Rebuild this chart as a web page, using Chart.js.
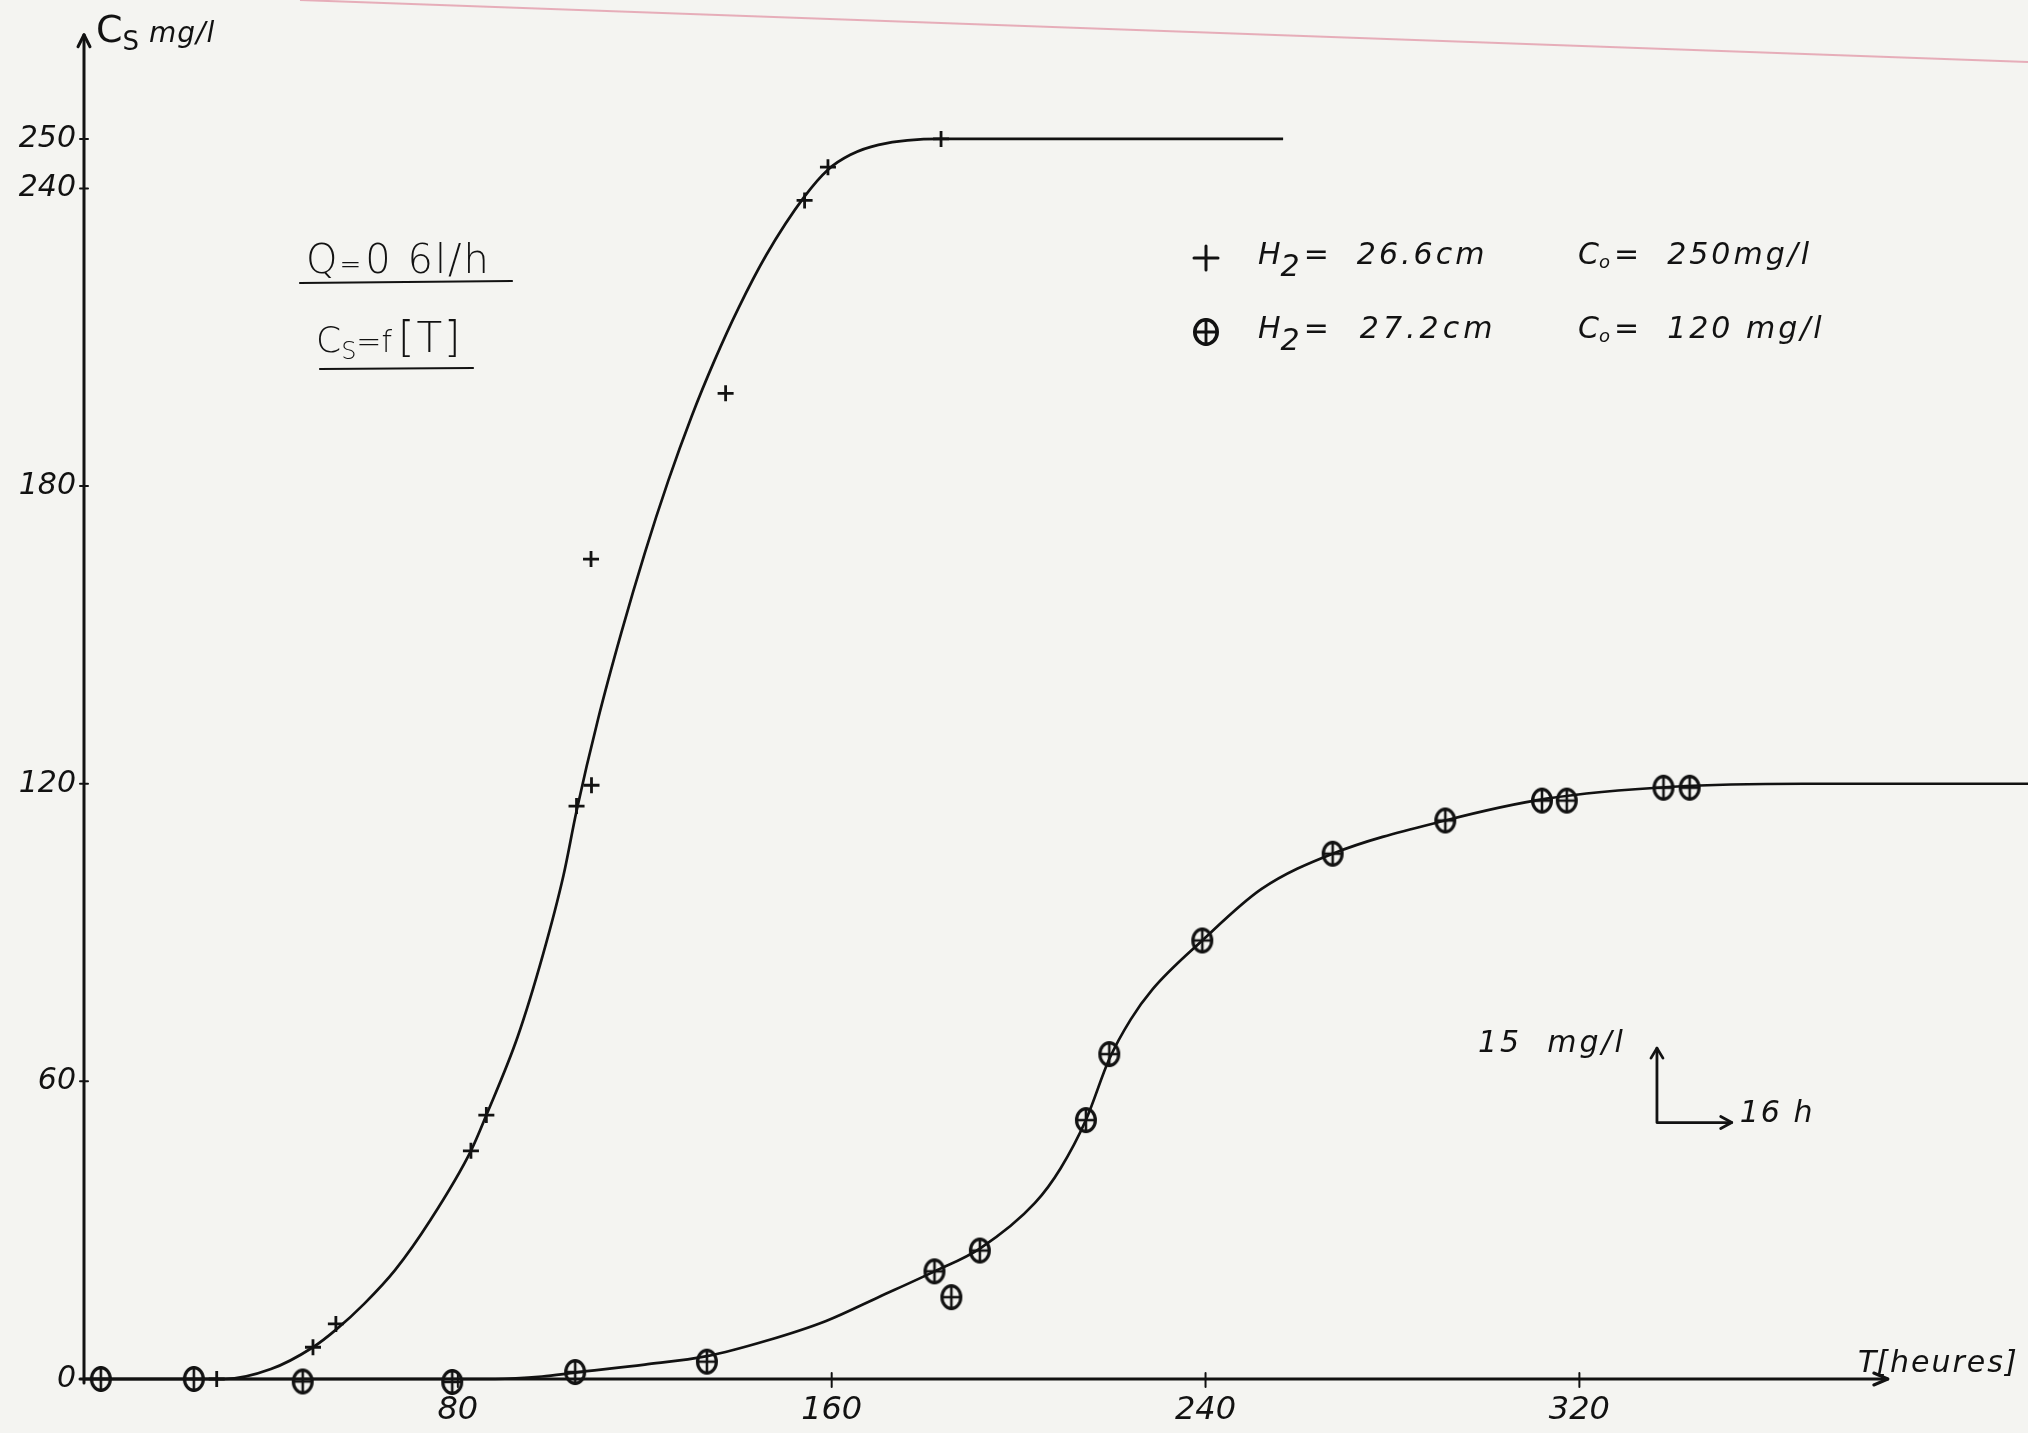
<!DOCTYPE html>
<html>
<head>
<meta charset="utf-8">
<style>
  html, body { margin: 0; padding: 0; background: #f4f4f1; }
  #wrap { width: 2028px; height: 1433px; position: relative; }
  canvas { display: block; }
</style>
<script src="https://cdn.jsdelivr.net/npm/chart.js@4/dist/chart.umd.min.js"></script>
</head>
<body>
<div id="wrap"><canvas id="c" width="2028" height="1433"></canvas></div>
<script>
// Time (hours) and concentration (mg/l) readings, H2 = 26.6 cm, C0 = 250 mg/l
const plusT = [28.4, 49, 53.9, 82.8, 86.1, 105.4, 108.6, 108.5, 137.3, 154.2, 159.2, 183.4];
const plusC = [0, 6.4, 11.1, 46, 53.2, 115.5, 119.7, 165.3, 198.7, 237.6, 244.3, 250];

// Readings, H2 = 27.2 cm, C0 = 120 mg/l
const circT = [3.6, 23.5, 46.8, 78.8, 105.1, 133.3, 182, 185.6, 191.7, 214.4, 219.4, 239.3, 267.2, 291.3, 312, 317.3, 338, 343.6];
const circC = [0, 0, -0.5, -0.6, 1.4, 3.5, 21.7, 16.5, 25.9, 52.2, 65.5, 88.4, 105.9, 112.6, 116.6, 116.6, 119.2, 119.2];

// Hand-fitted curve through the first set
const fit1T = [0, 30, 40, 49, 54, 60, 66.6, 74.1, 82.8, 86.1, 92.8, 98.2, 102.6, 105.4, 110, 115, 120, 125, 130, 135, 140, 146, 154.2, 159.2, 164, 170, 183.4, 256.6];
const fit1C = [0, 0, 2, 6.4, 10, 15.2, 22, 32, 46, 53.2, 69, 85.5, 101.5, 114.5, 133, 150.5, 166.5, 181, 194, 205.5, 215.8, 226.6, 238.4, 243.8, 246.8, 248.8, 250, 250];

// Hand-fitted curve through the second set
const fit2T = [0, 88, 98, 105.1, 120, 133.3, 146, 158.8, 170, 182, 191.7, 203.5, 209, 214.4, 219.4, 224, 228.6, 239.3, 252, 267.2, 291.3, 313, 340, 368, 416];
const fit2C = [0, 0, 0.5, 1.3, 2.9, 4.6, 7.7, 11.7, 16.5, 21.7, 26.3, 35.5, 42.5, 52.2, 64.5, 72.5, 78.5, 88.4, 98.8, 105.9, 112.6, 117, 119.4, 120, 120];

// Axis ticks
const xTicks = [80, 160, 240, 320];
const yTicks = [0, 60, 120, 180, 240, 250];

// Scale key: 15 mg/l vertical, 16 h horizontal
const keyOrigin = [336.6, 51.7];
const keyStep = [16, 15];

const INK = '#121212';
const FONT = '"DejaVu Sans", "Liberation Sans", sans-serif';

const toXY = (xs, ys) => xs.map((x, i) => ({ x, y: ys[i] }));

// Circle-with-cross marker
function makeCircleCross(w, h, lw) {
  const c = document.createElement('canvas');
  c.width = w; c.height = h;
  const g = c.getContext('2d');
  g.strokeStyle = INK; g.lineWidth = lw;
  g.beginPath();
  g.ellipse(w / 2, h / 2, w / 2 - lw / 2 - 1, h / 2 - lw / 2 - 1, 0, 0, Math.PI * 2);
  g.stroke();
  g.lineWidth = lw * 0.8;
  g.beginPath();
  g.moveTo(w / 2, 1); g.lineTo(w / 2, h - 1);
  g.moveTo(lw, h / 2); g.lineTo(w - lw, h / 2);
  g.stroke();
  return c;
}
const circleCross = makeCircleCross(24, 28, 3.2);
const legendCircleCross = makeCircleCross(28, 30, 3.6);

function drawPlus(ctx, x, y, r) {
  ctx.beginPath();
  ctx.moveTo(x - r, y); ctx.lineTo(x + r, y);
  ctx.moveTo(x, y - r); ctx.lineTo(x, y + r);
  ctx.stroke();
}

// Draw text runs one after another; each run may shift up/down (subscripts)
function runs(ctx, x, y, parts) {
  let cx = x;
  for (const p of parts) {
    ctx.font = (p.style || 'italic') + ' ' + (p.weight || 'normal') + ' ' + p.size + 'px ' + FONT;
    ctx.letterSpacing = (p.ls || 0) + 'px';
    ctx.fillText(p.t, cx, y + (p.dy || 0));
    cx += ctx.measureText(p.t).width + (p.gap || 0);
  }
  ctx.letterSpacing = '0px';
  return cx;
}

const noPad = s => { s.paddingLeft = 0; s.paddingRight = 0; s.paddingTop = 0; s.paddingBottom = 0; };

const decor = {
  id: 'decor',
  beforeDraw(chart) {
    const ctx = chart.ctx;
    ctx.save();
    ctx.fillStyle = '#f4f4f1';
    ctx.fillRect(0, 0, chart.width, chart.height);
    // faint ruled line across the top of the sheet
    ctx.strokeStyle = 'rgba(226, 150, 165, 0.75)';
    ctx.lineWidth = 2;
    ctx.beginPath(); ctx.moveTo(300, 0); ctx.lineTo(2028, 62); ctx.stroke();
    ctx.restore();
  },
  afterDraw(chart) {
    const ctx = chart.ctx;
    const xs = chart.scales.x, ys = chart.scales.y;
    const X = v => xs.getPixelForValue(v), Y = v => ys.getPixelForValue(v);
    ctx.save();
    ctx.strokeStyle = INK; ctx.fillStyle = INK;
    ctx.lineCap = 'round'; ctx.lineJoin = 'round';

    // axes with arrowheads
    ctx.lineWidth = 3;
    const x0 = X(0), y0 = Y(0), yTop = Y(271), xEnd = X(386);
    ctx.beginPath(); ctx.moveTo(x0, y0 + 4); ctx.lineTo(x0, yTop); ctx.stroke();
    ctx.beginPath(); ctx.moveTo(x0 - 6, yTop + 12); ctx.lineTo(x0, yTop); ctx.lineTo(x0 + 6, yTop + 12); ctx.stroke();
    ctx.beginPath(); ctx.moveTo(x0 - 4, y0); ctx.lineTo(xEnd, y0); ctx.stroke();
    ctx.beginPath(); ctx.moveTo(xEnd - 14, y0 - 6); ctx.lineTo(xEnd, y0); ctx.lineTo(xEnd - 14, y0 + 6); ctx.stroke();

    // tick marks
    ctx.lineWidth = 2;
    for (const v of xTicks) { ctx.beginPath(); ctx.moveTo(X(v), y0 - 6); ctx.lineTo(X(v), y0 + 8); ctx.stroke(); }
    for (const v of yTicks) { if (v === 0) continue; ctx.beginPath(); ctx.moveTo(x0 - 4, Y(v)); ctx.lineTo(x0 + 4, Y(v)); ctx.stroke(); }

    ctx.textBaseline = 'alphabetic';
    ctx.textAlign = 'left';

    // axis titles
    runs(ctx, x0 + 12, 42, [
      { t: 'C', size: 38, style: 'normal' },
      { t: 'S', size: 26, style: 'normal', dy: 8, gap: 10 },
      { t: 'mg/l', size: 28, ls: 1 }
    ]);
    runs(ctx, 1858, 1372, [
      { t: 'T', size: 30 },
      { t: '[heures]', size: 30, ls: 2 }
    ]);

    // Q and Cs = f[T] with underlines
    runs(ctx, 306, 273, [
      { t: 'Q', size: 40, style: 'normal', weight: '300', gap: 2 },
      { t: '=', size: 26, style: 'normal', weight: '300', gap: 4 },
      { t: '0 6l/h', size: 40, style: 'normal', weight: '300', ls: 2 }
    ]);
    ctx.lineWidth = 2.2;
    ctx.beginPath(); ctx.moveTo(300, 283); ctx.lineTo(512, 281); ctx.stroke();
    runs(ctx, 316, 352, [
      { t: 'C', size: 36, style: 'normal', weight: '300' },
      { t: 'S', size: 24, style: 'normal', weight: '300', dy: 7 },
      { t: '=f', size: 30, style: 'normal', weight: '300', gap: 6 },
      { t: '[T]', size: 42, style: 'normal', weight: '300', ls: 2 }
    ]);
    ctx.beginPath(); ctx.moveTo(320, 369); ctx.lineTo(473, 368); ctx.stroke();

    // legend
    ctx.lineWidth = 3;
    drawPlus(ctx, 1206, 258, 12);
    ctx.drawImage(legendCircleCross, 1206 - 14, 332 - 15, 28, 30);
    runs(ctx, 1258, 264, [
      { t: 'H', size: 30 },
      { t: '2', size: 30, dy: 12, gap: 4 },
      { t: '=  26.6cm', size: 30, ls: 3 }
    ]);
    runs(ctx, 1578, 264, [
      { t: 'C', size: 30 },
      { t: 'o', size: 18, dy: 4, gap: 4 },
      { t: '=  250mg/l', size: 30, ls: 3 }
    ]);
    runs(ctx, 1258, 338, [
      { t: 'H', size: 30 },
      { t: '2', size: 30, dy: 12, gap: 4 },
      { t: '=  27.2cm', size: 30, ls: 4 }
    ]);
    runs(ctx, 1578, 338, [
      { t: 'C', size: 30 },
      { t: 'o', size: 18, dy: 4, gap: 4 },
      { t: '=  120 mg/l', size: 30, ls: 3 }
    ]);

    // scale key
    const kx = X(keyOrigin[0]), ky = Y(keyOrigin[1]);
    const kTop = Y(keyOrigin[1] + keyStep[1]), kRight = X(keyOrigin[0] + keyStep[0]);
    ctx.lineWidth = 2.8;
    ctx.beginPath(); ctx.moveTo(kx, kTop); ctx.lineTo(kx, ky); ctx.lineTo(kRight, ky); ctx.stroke();
    ctx.beginPath(); ctx.moveTo(kx - 6, kTop + 10); ctx.lineTo(kx, kTop); ctx.lineTo(kx + 6, kTop + 10); ctx.stroke();
    ctx.beginPath(); ctx.moveTo(kRight - 11, ky - 6); ctx.lineTo(kRight, ky); ctx.lineTo(kRight - 11, ky + 6); ctx.stroke();
    runs(ctx, 1478, 1052, [{ t: '15  mg/l', size: 30, ls: 3 }]);
    runs(ctx, kRight + 8, ky - 1, [{ t: '16 h', size: 30, ls: 2 }]);

    ctx.restore();
  }
};

new Chart(document.getElementById('c'), {
  type: 'scatter',
  data: {
    datasets: [
      {
        data: toXY(fit1T, fit1C), showLine: true, pointRadius: 0,
        borderColor: INK, borderWidth: 2.7, cubicInterpolationMode: 'monotone', clip: false
      },
      {
        data: toXY(fit2T, fit2C), showLine: true, pointRadius: 0,
        borderColor: INK, borderWidth: 2.7, cubicInterpolationMode: 'monotone', clip: false
      },
      {
        data: toXY(plusT, plusC), pointStyle: 'cross', pointRadius: 8,
        borderColor: INK, borderWidth: 2.8, clip: false
      },
      {
        data: toXY(circT, circC), pointStyle: circleCross, pointRadius: 12, clip: false
      }
    ]
  },
  options: {
    responsive: false,
    devicePixelRatio: 1,
    animation: false,
    layout: { padding: 0, autoPadding: false },
    plugins: { legend: { display: false }, tooltip: { enabled: false } },
    scales: {
      x: {
        type: 'linear', min: 0, max: 416,
        afterBuildTicks: s => { s.ticks = xTicks.map(v => ({ value: v })); },
        afterFit: s => { s.height = 54; noPad(s); },
        grid: { display: false, drawTicks: false },
        border: { display: false },
        ticks: { color: INK, padding: 12, font: { family: FONT, size: 32, style: 'italic' } }
      },
      y: {
        type: 'linear', min: 0, max: 278,
        afterBuildTicks: s => { s.ticks = yTicks.map(v => ({ value: v })); },
        afterFit: s => { s.width = 84; noPad(s); },
        grid: { display: false, drawTicks: false },
        border: { display: false },
        ticks: { color: INK, padding: 8, font: { family: FONT, size: 30, style: 'italic' } }
      }
    }
  },
  plugins: [decor]
});
</script>
</body>
</html>
